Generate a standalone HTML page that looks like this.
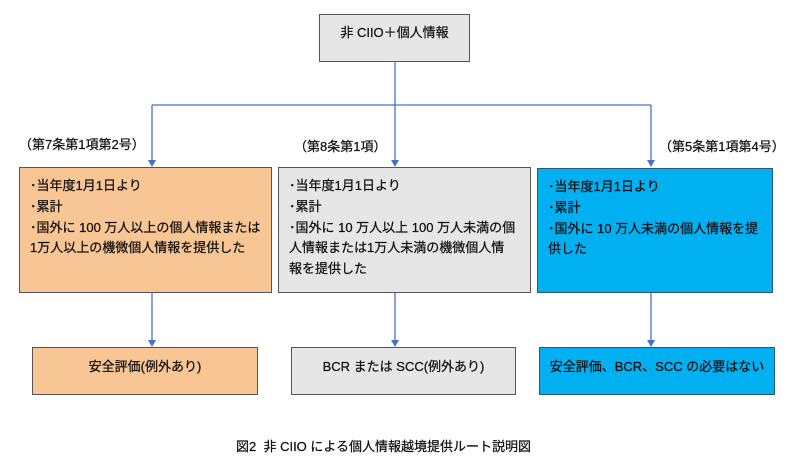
<!DOCTYPE html>
<html><head><meta charset="utf-8">
<style>
html,body{margin:0;padding:0;background:#fff;}
body{width:800px;height:470px;position:relative;overflow:hidden;font-family:"Liberation Sans","Noto Sans CJK JP",sans-serif;color:#111;font-size:13px;-webkit-text-stroke:0.25px #111;}
.box{position:absolute;box-sizing:border-box;}
.mid{padding:8px 0 0 10px;line-height:20.8px;white-space:nowrap;}
.lbl{position:absolute;white-space:nowrap;font-size:13px;line-height:16px;}
.ctr{display:flex;align-items:center;justify-content:center;white-space:nowrap;}
svg{position:absolute;left:0;top:0;}
</style></head><body>
<svg width="800" height="470">
<g stroke="#4472c4" stroke-width="1.3" fill="none">
<line x1="395" y1="62" x2="395" y2="105"/>
<line x1="152" y1="105" x2="651" y2="105"/>
<line x1="152" y1="105" x2="152" y2="161"/>
<line x1="395" y1="105" x2="395" y2="161"/>
<line x1="651" y1="105" x2="651" y2="161"/>
<line x1="152" y1="292" x2="152" y2="341"/>
<line x1="395" y1="292" x2="395" y2="341"/>
<line x1="651" y1="292" x2="651" y2="341"/>
</g>
<g fill="#4472c4">
<polygon points="148,160 156,160 152,167"/>
<polygon points="391,160 399,160 395,167"/>
<polygon points="647,160 655,160 651,167"/>
<polygon points="148,340 156,340 152,347"/>
<polygon points="391,340 399,340 395,347"/>
<polygon points="647,340 655,340 651,347"/>
</g>
</svg>

<div class="box ctr" style="left:319px;top:14px;width:151px;height:48px;background:#e7e6e6;border:1px solid #555;padding-bottom:14px;">非 CIIO＋個人情報</div>

<div class="lbl" style="left:19px;top:137px;">（第7条第1項第2号）</div>
<div class="lbl" style="left:294px;top:139px;">（第8条第1項）</div>
<div class="lbl" style="left:659px;top:139px;">（第5条第1項第4号）</div>

<div class="box mid" style="left:19px;top:167px;width:253px;height:126px;background:#f8c594;border:1px solid #555;">･当年度1月1日より<br>･累計<br>･国外に 100 万人以上の個人情報または<br>1万人以上の機微個人情報を提供した</div>

<div class="box mid" style="left:278px;top:167px;width:253px;height:126px;background:#e7e6e6;border:1px solid #555;">･当年度1月1日より<br>･累計<br>･国外に 10 万人以上 100 万人未満の個<br>人情報または1万人未満の機微個人情<br>報を提供した</div>

<div class="box mid" style="left:537px;top:168px;width:236px;height:125px;background:#00b0f0;border:1px solid #2f5673;">･当年度1月1日より<br>･累計<br>･国外に 10 万人未満の個人情報を提<br>供した</div>

<div class="box ctr" style="left:32px;top:347px;width:226px;height:48px;background:#f8c594;border:1px solid #555;padding-bottom:11px;">安全評価(例外あり)</div>
<div class="box ctr" style="left:291px;top:347px;width:225px;height:48px;background:#e7e6e6;border:1px solid #555;padding-bottom:11px;">BCR または SCC(例外あり)</div>
<div class="box ctr" style="left:539px;top:347px;width:236px;height:48px;background:#00b0f0;border:1px solid #2f5673;padding-bottom:11px;">安全評価、BCR、SCC の必要はない</div>

<div class="lbl" style="left:236px;top:439px;">図2&nbsp;&nbsp;非 CIIO による個人情報越境提供ルート説明図</div>
</body></html>
